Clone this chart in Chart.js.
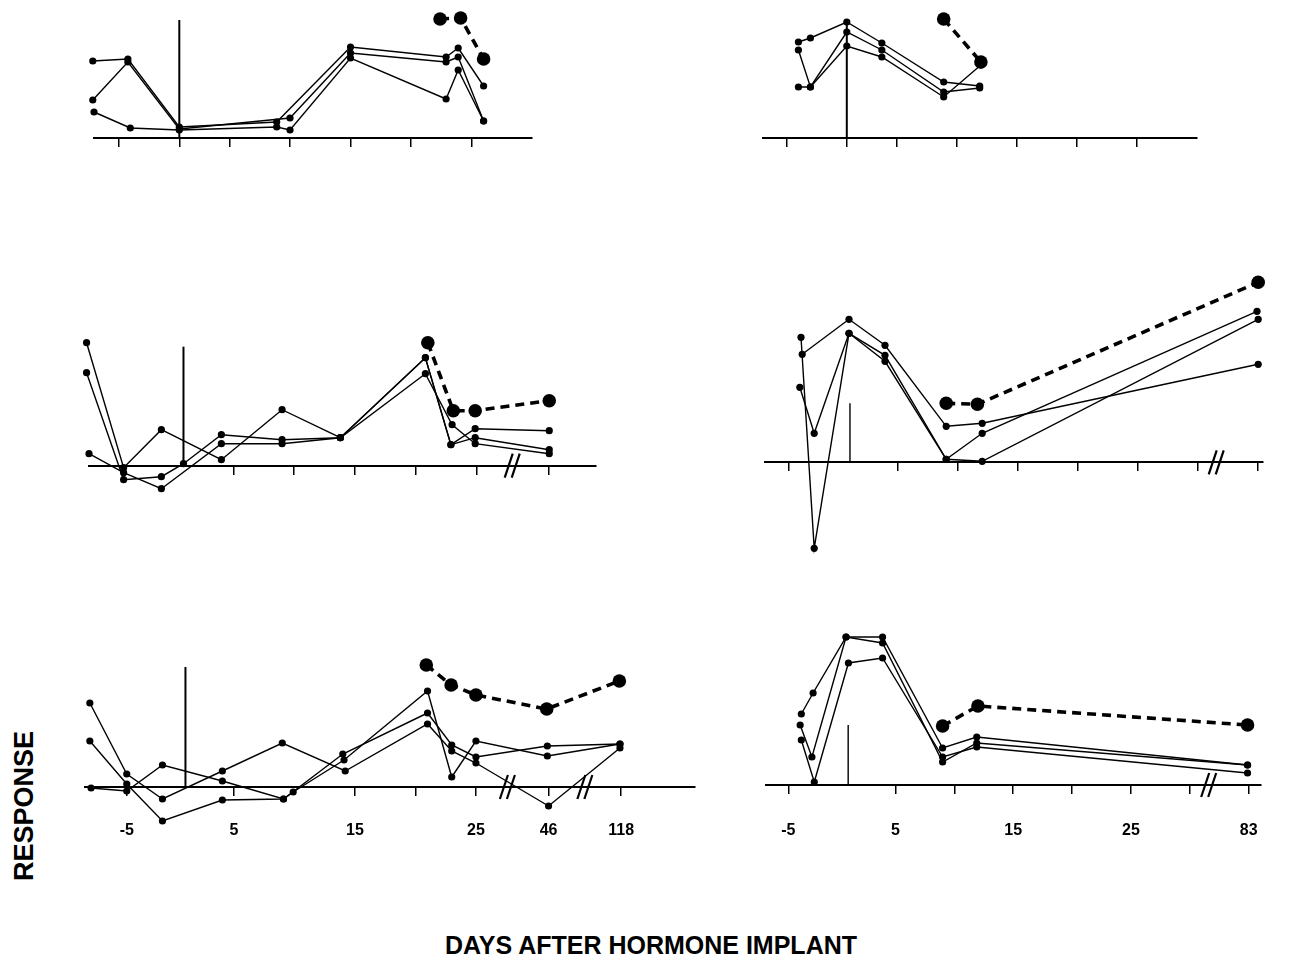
<!DOCTYPE html>
<html>
<head>
<meta charset="utf-8">
<script src="https://cdn.jsdelivr.net/npm/chart.js@4.4.1/dist/chart.umd.min.js"></script>
<style>
  html, body { margin: 0; padding: 0; background: #fff; }
  body { width: 1299px; height: 969px; position: relative; overflow: hidden;
         font-family: "Liberation Sans", Arial, sans-serif; }
  canvas { position: absolute; }
  .lbl { position: absolute; font-weight: bold; color: #000; white-space: nowrap; line-height: 1; }
  #ylab { left: 24px; top: 806px; font-size: 27px; transform: translate(-50%, -50%) rotate(-90deg); }
  #xlab { left: 651px; top: 945px; font-size: 25px; transform: translate(-50%, -50%); }
</style>
</head>
<body>
<canvas id="pA"></canvas>
<canvas id="pB"></canvas>
<canvas id="pC"></canvas>
<canvas id="pD"></canvas>
<canvas id="pE"></canvas>
<canvas id="pF"></canvas>
<div class="lbl" id="ylab">RESPONSE</div>
<div class="lbl" id="xlab">DAYS AFTER HORMONE IMPLANT</div>
<script>
// values: x in days (plot position), y in response units above the baseline

// panel A (top left)
const aTicks = [-4.15, 0.85, 5, 10, 15, 20, 25];
const aImplant = [0.85, 11.8];
const aS1 = [[-6.3,7.7],[-3.4,7.9],[0.85,1.1],[8.9,1.6],[15.0,9.1],[22.9,8.1],[23.9,9.0],[26.0,5.2]];
const aS2 = [[-6.3,3.8],[-3.4,7.6],[0.85,0.9],[10.0,2.0],[15.0,8.5],[22.9,7.6],[23.9,8.1],[26.0,1.7]];
const aS3 = [[-6.2,2.6],[-3.2,1.0],[0.85,0.8],[8.9,1.1],[10.0,0.8],[15.0,8.0],[22.9,3.9],[23.9,6.8],[26.0,1.7]];
const aMean = [[22.4,11.9],[24.1,12.0],[26.0,7.9]];

// panel B (top right)
const bTicks = [-4.15, 0.83, 5, 10, 15, 20, 25];
const bImplant = [0.83, 11.6];
const bS1 = [[-3.2,9.6],[-2.2,10.0],[0.83,11.6],[3.75,9.5],[8.9,5.6],[11.9,5.2]];
const bS2 = [[-3.2,8.8],[-2.2,5.1],[0.83,10.6],[3.75,8.8],[8.9,4.6],[11.9,5.0]];
const bS3 = [[-3.2,5.1],[-2.2,5.1],[0.83,9.2],[3.75,8.1],[8.9,4.1],[12.0,7.3]];
const bMean = [[8.9,11.9],[12.0,7.6]];

// panel C (middle left)
const cTicks = [5, 10, 15, 20, 25, 31];
const cBreaks = [27.95];
const cImplant = [0.88, 11.9];
const cS1 = [[-7.1,12.3],[-4.05,-0.2],[-0.94,3.6],[4.0,0.6],[9.0,5.6],[13.8,2.8],[20.8,10.8],[22.9,2.1],[24.9,3.7],[31.0,3.5]];
const cS2 = [[-7.1,9.3],[-4.05,-1.4],[-0.94,-1.1],[0.88,0.2],[4.0,3.1],[9.0,2.6],[13.8,2.8],[20.8,10.8],[22.9,2.1],[24.9,2.8],[31.0,1.6]];
const cS3 = [[-6.9,1.2],[-4.05,-0.7],[-0.94,-2.3],[4.0,2.2],[9.0,2.2],[13.8,2.8],[20.8,9.2],[23.0,4.1],[24.9,2.2],[31.0,1.2]];
const cMean = [[21.0,12.3],[23.1,5.5],[24.9,5.5],[31.0,6.5]];

// panel D (middle right)
const dTicks = [-4.1, 5, 10, 15, 20, 25, 30, 35];
const dBreaks = [31.5];
const dImplant = [0.98, 5.9];
const dS1 = [[-3.0,10.8],[0.9,14.3],[3.9,11.7],[9.0,3.6],[12.0,3.9],[35.0,9.8]];
const dS2 = [[-3.1,12.5],[-2.0,-8.6],[0.9,12.9],[3.9,10.1],[9.0,0.3],[12.0,0.1],[35.0,14.3]];
const dS3 = [[-3.2,7.5],[-2.0,2.9],[0.9,12.9],[3.9,10.7],[9.0,0.3],[12.0,2.9],[34.9,15.1]];
const dMean = [[9.0,5.9],[11.6,5.8],[35.0,18.0]];

// panel E (bottom left)
const eTicks = [-3.85, 5, 15, 20, 25, 31, 37];
const eTickLabels = ['-5', '5', '15', '', '25', '46', '118'];
const eBreaks = [27.6, 34.0];
const eImplant = [1.0, 12.0];
const eS1 = [[-6.9,8.4],[-3.85,1.3],[-0.9,-1.2],[4.05,1.6],[9.0,4.4],[14.2,1.6],[21.0,6.3],[23.0,3.6],[25.0,2.4],[31.0,-1.9],[36.9,3.9]];
const eS2 = [[-6.9,4.6],[-3.85,0.3],[-0.9,-3.4],[4.05,-1.3],[9.1,-1.2],[14.0,3.3],[21.0,7.4],[23.0,4.2],[25.0,3.0],[30.9,4.1],[36.9,4.3]];
const eS3 = [[-6.8,-0.1],[-3.85,-0.4],[-0.9,2.2],[4.05,0.6],[9.1,-1.2],[9.9,-0.5],[14.1,2.7],[21.0,9.6],[23.0,1.0],[25.0,4.6],[30.9,3.1],[36.9,4.3]];
const eMean = [[20.9,12.2],[22.95,10.2],[25.0,9.2],[30.85,7.8],[36.85,10.6]];

// panel F (bottom right)
const fTicks = [-4.1, 5, 10, 15, 20, 25, 30, 35];
const fTickLabels = ['-5', '5', '', '15', '', '25', '', '83'];
const fBreaks = [31.6];
const fImplant = [0.98, 6.0];
const fS1 = [[-3.0,7.1],[-2.0,9.2],[0.8,14.8],[3.9,14.8],[9.0,3.7],[11.9,4.8],[34.9,2.0]];
const fS2 = [[-3.1,6.0],[-2.1,2.8],[0.8,14.8],[3.9,14.2],[9.0,2.3],[11.9,4.2],[34.9,2.0]];
const fS3 = [[-3.0,4.5],[-1.9,0.3],[1.0,12.2],[3.9,12.7],[9.0,2.8],[11.9,3.8],[34.9,1.2]];
const fMean = [[9.0,5.9],[12.0,7.9],[34.9,6.0]];

// where each panel sits on the page
const frames = {
  A: { day0: 169.5, perDay: 12.1,  xmin: -6.2,  xmax: 30.0,  axis: 138,   top: 0,   bottom: 160 },
  B: { day0: 836.7, perDay: 12.0,  xmin: -6.15, xmax: 30.0,  axis: 138,   top: 0,   bottom: 160 },
  C: { day0: 172.5, perDay: 12.14, xmin: -6.9,  xmax: 34.85, axis: 465.7, top: 325, bottom: 505 },
  D: { day0: 837.7, perDay: 12.0,  xmin: -6.1,  xmax: 35.4,  axis: 462.3, top: 262, bottom: 565 },
  E: { day0: 173.5, perDay: 12.1,  xmin: -7.3,  xmax: 43.1,  axis: 787,   top: 645, bottom: 860, pad: 26 },
  F: { day0: 837.7, perDay: 12.0,  xmin: -6.0,  xmax: 36.0,  axis: 785,   top: 622, bottom: 860, pad: 28 }
};

const FONT = '"Liberation Sans", Arial, sans-serif';

// "//" marks where the time axis is broken
const breakMarks = {
  id: 'breakMarks',
  afterDatasetsDraw(chart, args, opts) {
    const xs = chart.scales.x, ys = chart.scales.y, ctx = chart.ctx;
    const y0 = ys.getPixelForValue(0);
    ctx.save();
    ctx.strokeStyle = '#000';
    ctx.lineWidth = 2.2;
    (opts.at || []).forEach(v => {
      const px = xs.getPixelForValue(v);
      [-3.5, 3.5].forEach(dx => {
        ctx.beginPath();
        ctx.moveTo(px + dx - 4, y0 + 12);
        ctx.lineTo(px + dx + 4, y0 - 12);
        ctx.stroke();
      });
    });
    ctx.restore();
  }
};

const pts = arr => arr.map(p => ({ x: p[0], y: p[1] }));

function thin(arr) {
  return { data: pts(arr), showLine: true, borderColor: '#000', borderWidth: 1.4,
           pointRadius: 3.6, pointBackgroundColor: '#000', pointBorderWidth: 0,
           pointHoverRadius: 3.6, clip: false };
}

function makePanel(id, f, p) {
  const M = 16, unit = 10;
  const cv = document.getElementById(id);
  const w = Math.round((f.xmax - f.xmin) * f.perDay) + 2 * M;
  const h = f.bottom - f.top;
  cv.width = w; cv.height = h;
  cv.style.width = w + 'px'; cv.style.height = h + 'px';
  cv.style.left = (f.day0 + f.xmin * f.perDay - M) + 'px';
  cv.style.top = f.top + 'px';

  const datasets = [
    thin(p.s1), thin(p.s2), thin(p.s3),
    { data: pts(p.mean), showLine: true, borderColor: '#000', borderWidth: 3.6,
      borderDash: [9, 6], pointRadius: 6.8, pointBackgroundColor: '#000',
      pointBorderWidth: 0, pointHoverRadius: 6.8, clip: false },
    { data: [{ x: p.implant[0], y: 0 }, { x: p.implant[0], y: p.implant[1] }], showLine: true,
      borderColor: '#000', borderWidth: p.implantWidth, pointRadius: 0, clip: false }
  ];

  return new Chart(cv, {
    type: 'scatter',
    data: { datasets: datasets },
    options: {
      responsive: false,
      animation: false,
      devicePixelRatio: 1,
      events: [],
      layout: { autoPadding: false, padding: { left: M, right: M, top: 0, bottom: 0 } },
      plugins: { legend: { display: false }, tooltip: { enabled: false }, breakMarks: { at: p.breaks } },
      scales: {
        x: {
          type: 'linear', min: f.xmin, max: f.xmax, position: { y: 0 },
          afterBuildTicks: s => { s.ticks = p.ticks.map(v => ({ value: v })); },
          ticks: {
            display: !!p.labels, autoSkip: false, maxRotation: 0, padding: f.pad || 0,
            color: '#000', font: { family: FONT, size: 16, weight: 'bold' },
            callback: (v, i) => (p.labels ? p.labels[i] : '')
          },
          grid: { display: true, drawOnChartArea: false, drawTicks: true, tickLength: 8,
                  color: '#000', lineWidth: 1.5 },
          border: { display: true, color: '#000', width: 2 }
        },
        y: { display: false, min: -(f.bottom - f.axis) / unit, max: (f.axis - f.top) / unit }
      }
    },
    plugins: [breakMarks]
  });
}

makePanel('pA', frames.A, { ticks: aTicks, implant: aImplant, implantWidth: 2, s1: aS1, s2: aS2, s3: aS3, mean: aMean });
makePanel('pB', frames.B, { ticks: bTicks, implant: bImplant, implantWidth: 2, s1: bS1, s2: bS2, s3: bS3, mean: bMean });
makePanel('pC', frames.C, { ticks: cTicks, breaks: cBreaks, implant: cImplant, implantWidth: 2, s1: cS1, s2: cS2, s3: cS3, mean: cMean });
makePanel('pD', frames.D, { ticks: dTicks, breaks: dBreaks, implant: dImplant, implantWidth: 1.4, s1: dS1, s2: dS2, s3: dS3, mean: dMean });
makePanel('pE', frames.E, { ticks: eTicks, labels: eTickLabels, breaks: eBreaks, implant: eImplant, implantWidth: 2, s1: eS1, s2: eS2, s3: eS3, mean: eMean });
makePanel('pF', frames.F, { ticks: fTicks, labels: fTickLabels, breaks: fBreaks, implant: fImplant, implantWidth: 1.4, s1: fS1, s2: fS2, s3: fS3, mean: fMean });
</script>
</body>
</html>
